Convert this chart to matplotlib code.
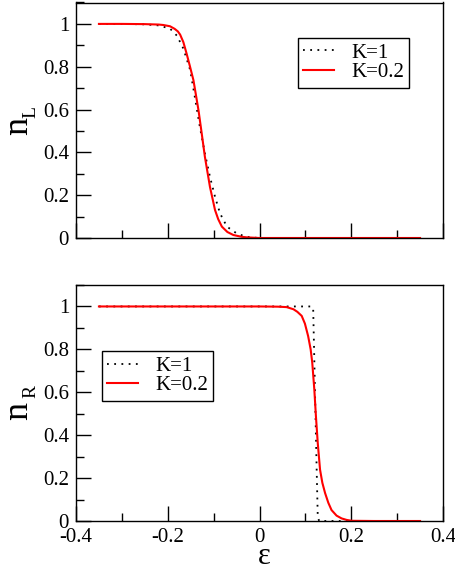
import matplotlib
matplotlib.use("Agg")
import matplotlib.pyplot as plt
from matplotlib.ticker import MultipleLocator

# ---- data ----
top_k1_x = [-0.35, -0.30, -0.25, -0.22, -0.195, -0.18, -0.166, -0.151, -0.141, -0.130,
            -0.119, -0.108, -0.097, -0.086, -0.071, -0.050, -0.035, -0.021, 0.0, 0.35]
top_k1_y = [1.0, 1.0, 0.998, 0.993, 0.978, 0.945, 0.885, 0.784, 0.659, 0.519,
            0.395, 0.286, 0.193, 0.115, 0.053, 0.022, 0.010, 0.003, 0.0, 0.0]

top_k02_x = [-0.35, -0.30, -0.25, -0.22, -0.21, -0.195, -0.185, -0.178, -0.173, -0.166,
             -0.159, -0.152, -0.144, -0.133, -0.126, -0.119, -0.108, -0.097, -0.090,
             -0.082, -0.070, -0.057, -0.040, -0.028, 0.0, 0.35]
top_k02_y = [1.0, 1.0, 0.999, 0.997, 0.995, 0.989, 0.977, 0.965, 0.950, 0.915,
             0.862, 0.805, 0.737, 0.597, 0.489, 0.379, 0.239, 0.131, 0.088,
             0.053, 0.028, 0.014, 0.006, 0.003, 0.0, 0.0]

bot_k1_x = [-0.35, 0.114, 0.117, 0.1195, 0.122, 0.1245, 0.127, 0.130, 0.35]
bot_k1_y = [1.0, 1.0, 0.99, 0.75, 0.50, 0.25, 0.02, 0.0, 0.0]

bot_k02_x = [-0.35, 0.0, 0.040, 0.059, 0.074, 0.0825, 0.092, 0.099, 0.106, 0.1115,
             0.115, 0.1195, 0.123, 0.127, 0.132, 0.137, 0.143, 0.150, 0.157, 0.168,
             0.179, 0.190, 0.201, 0.25, 0.35]
bot_k02_y = [1.0, 1.0, 0.999, 0.997, 0.987, 0.975, 0.956, 0.920, 0.862, 0.800,
             0.738, 0.613, 0.488, 0.363, 0.239, 0.178, 0.130, 0.085, 0.051, 0.025,
             0.012, 0.005, 0.001, 0.0, 0.0]

labels = ["K=1", "K=0.2"]
x_ticks = [-0.4, -0.2, 0, 0.2, 0.4]
x_tick_labels = ["-0.4", "-0.2", "0", "0.2", "0.4"]
y_ticks = [0, 0.2, 0.4, 0.6, 0.8, 1.0]
y_tick_labels = ["0", "0.2", "0.4", "0.6", "0.8", "1"]

plt.rcParams['font.family'] = ['Liberation Serif', 'DejaVu Serif']

W, H = 455, 571
fig = plt.figure(figsize=(W / 100, H / 100), dpi=100)
ax1 = fig.add_axes([76 / W, 1 - 238 / H, 367 / W, 235.5 / H])
ax2 = fig.add_axes([76 / W, 1 - 521 / H, 367 / W, 236 / H])

dot_style = dict(color='black', linestyle=(0, (1, 3)), linewidth=1.3)
red_style = dict(color='#ff0000', linestyle='-', linewidth=1.5)
TICK_FS = 15
LEG_FS = 15


def style(ax, show_xlabels):
    ax.set_xlim(-0.4, 0.4)
    ax.set_ylim(0, 1.1)
    ax.set_xticks(x_ticks)
    ax.set_yticks(y_ticks)
    ax.set_yticklabels(y_tick_labels)
    if show_xlabels:
        ax.set_xticklabels(x_tick_labels)
    else:
        ax.set_xticklabels([])
    ax.xaxis.set_minor_locator(MultipleLocator(0.1))
    ax.yaxis.set_minor_locator(MultipleLocator(0.1))
    ax.tick_params(which='major', direction='in', length=10.5, width=1.0,
                   labelsize=TICK_FS, top=False, right=False, pad=5)
    ax.tick_params(which='minor', direction='in', length=5.5, width=1.0,
                   top=False, right=False)
    for s in ax.spines.values():
        s.set_linewidth(1.0)


def px(x, y):
    return x / W, 1 - y / H


def ylabel(main, sub, xn, yn, xs, ys):
    fig.text(*px(xn, yn), main, rotation=90, rotation_mode='anchor',
             ha='left', va='baseline', fontsize=26)
    fig.text(*px(xs, ys), sub, rotation=90, rotation_mode='anchor',
             ha='left', va='baseline', fontsize=14)


leg_kw = dict(loc='upper left', fontsize=LEG_FS, frameon=True, fancybox=False,
              framealpha=1, edgecolor='black', handlelength=1.5, handletextpad=0.8,
              borderpad=0.25, labelspacing=0.0, borderaxespad=0)

# top panel
ax1.plot(top_k1_x, top_k1_y, label=labels[0], **dot_style)
ax1.plot(top_k02_x, top_k02_y, label=labels[1], **red_style)
style(ax1, False)
ylabel('n', 'L', 27, 135, 35, 118)
leg1 = ax1.legend(bbox_to_anchor=((298 - 76) / 367, 1 - (38 - 2.5) / 235.5), **leg_kw)
leg1.get_frame().set_linewidth(1.0)

# bottom panel
ax2.plot(bot_k1_x, bot_k1_y, label=labels[0], **dot_style)
ax2.plot(bot_k02_x, bot_k02_y, label=labels[1], **red_style)
style(ax2, True)
ylabel('n', 'R', 27, 420, 35, 398)
fig.text(*px(264, 564), 'ε', ha='center', va='baseline', fontsize=22)
leg2 = ax2.legend(bbox_to_anchor=((102 - 76) / 367, 1 - (351 - 285) / 236), **leg_kw)
leg2.get_frame().set_linewidth(1.0)

fig.savefig('out.png', dpi=100)
